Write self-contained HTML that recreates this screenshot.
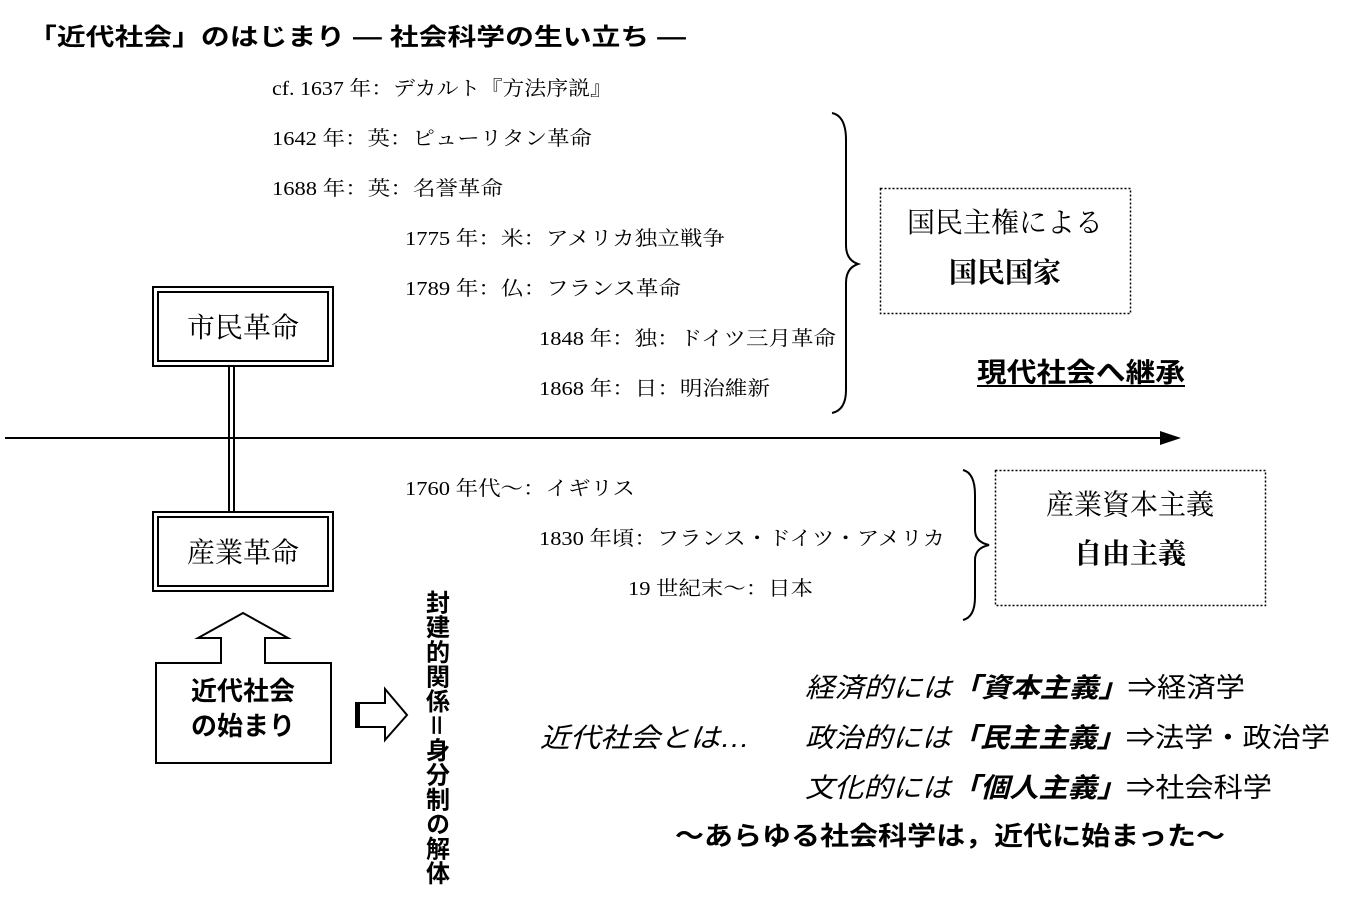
<!DOCTYPE html>
<html><head><meta charset="utf-8"><style>
html,body{margin:0;padding:0;background:#fff;}
svg{display:block;}
.s{font-family:"Liberation Serif","Noto Serif CJK SC",serif;fill:#000;}
.g{font-family:"Liberation Sans","Noto Sans CJK JP",sans-serif;fill:#000;}
</style></head><body>
<svg width="1350" height="910" xmlns="http://www.w3.org/2000/svg">
<text class="g" x="28" y="45" font-size="24" font-weight="bold" textLength="658" lengthAdjust="spacingAndGlyphs">「近代社会」のはじまり ― 社会科学の生い立ち ―</text>
<g class="s" font-size="20">
<text x="272" y="95" textLength="340" lengthAdjust="spacingAndGlyphs">cf. 1637 年：デカルト『方法序説』</text>
<text x="272" y="145" textLength="320" lengthAdjust="spacingAndGlyphs">1642 年：英：ピューリタン革命</text>
<text x="272" y="195" textLength="231" lengthAdjust="spacingAndGlyphs">1688 年：英：名誉革命</text>
<text x="405" y="245" textLength="320" lengthAdjust="spacingAndGlyphs">1775 年：米：アメリカ独立戦争</text>
<text x="405" y="295" textLength="276" lengthAdjust="spacingAndGlyphs">1789 年：仏：フランス革命</text>
<text x="539" y="345" textLength="297" lengthAdjust="spacingAndGlyphs">1848 年：独：ドイツ三月革命</text>
<text x="539" y="395" textLength="231" lengthAdjust="spacingAndGlyphs">1868 年：日：明治維新</text>
<text x="405" y="495" textLength="230" lengthAdjust="spacingAndGlyphs">1760 年代～：イギリス</text>
<text x="539" y="545" textLength="406" lengthAdjust="spacingAndGlyphs">1830 年頃：フランス・ドイツ・アメリカ</text>
<text x="628" y="595" textLength="185" lengthAdjust="spacingAndGlyphs">19 世紀末～：日本</text>
</g>
<g fill="none" stroke="#000" stroke-width="2">
<path d="M832,113 Q846,116 846,140 L846,245 Q846,260 858,264 Q846,268 846,283 L846,390 Q846,410 832,413"/>
<path d="M963,470 Q975,473 975,495 L975,530 Q975,542 989,545 Q975,548 975,560 L975,597 Q975,617 963,620"/>
</g>
<g fill="none" stroke="#000" stroke-width="1.5" stroke-dasharray="2,2">
<rect x="880.5" y="188.5" width="250" height="125"/>
<rect x="995.5" y="470.5" width="270" height="135"/>
</g>
<g class="s" font-size="28" text-anchor="middle">
<text x="1005" y="232">国民主権による</text>
<text x="1005" y="282" font-weight="bold">国民国家</text>
<text x="1130" y="514">産業資本主義</text>
<text x="1130" y="563" font-weight="bold">自由主義</text>
</g>
<text class="g" x="977" y="382" font-size="27" font-weight="bold" textLength="208" lengthAdjust="spacingAndGlyphs">現代社会へ継承</text>
<line x1="977" y1="386" x2="1185" y2="386" stroke="#000" stroke-width="2"/>
<line x1="5" y1="438" x2="1165" y2="438" stroke="#000" stroke-width="2"/>
<polygon points="1160,431 1181,438 1160,445" fill="#000"/>
<g fill="none" stroke="#000">
<rect x="153" y="287" width="180" height="79" stroke-width="2"/>
<rect x="158" y="292" width="170" height="69" stroke-width="2"/>
<rect x="153" y="512" width="180" height="79" stroke-width="2"/>
<rect x="158" y="517" width="170" height="69" stroke-width="2"/>
<line x1="229" y1="367" x2="229" y2="512" stroke-width="2"/>
<line x1="234" y1="367" x2="234" y2="512" stroke-width="2"/>
<path d="M243,613 L288,638 L265,638 L265,663 L331,663 L331,763 L156,763 L156,663 L221,663 L221,638 L198,638 Z" stroke-width="2"/>
<path d="M356,703 L385,703 L385,689 L407,715 L385,740 L385,727 L356,727 Z" stroke-width="2"/>
<line x1="358" y1="703" x2="358" y2="727" stroke-width="4"/>
</g>
<g class="s" font-size="28" text-anchor="middle">
<text x="243" y="337">市民革命</text>
<text x="243" y="562">産業革命</text>
</g>
<g class="g" font-size="26" font-weight="bold" text-anchor="middle">
<text x="243" y="700">近代社会</text>
<text x="243" y="735">の始まり</text>
</g>
<text class="g" x="435" y="590" font-size="24" font-weight="bold" style="writing-mode:vertical-rl;" textLength="295" lengthAdjust="spacingAndGlyphs">封建的関係＝身分制の解体</text>
<g class="g" font-size="27" font-style="italic">
<text x="540" y="747" textLength="210" lengthAdjust="spacingAndGlyphs">近代社会とは…</text>
<text x="805" y="697" textLength="440" lengthAdjust="spacingAndGlyphs">経済的には<tspan font-weight="bold">「資本主義」</tspan><tspan font-style="normal">⇒経済学</tspan></text>
<text x="805" y="747" textLength="525" lengthAdjust="spacingAndGlyphs">政治的には<tspan font-weight="bold">「民主主義」</tspan><tspan font-style="normal">⇒法学・政治学</tspan></text>
<text x="805" y="797" textLength="467" lengthAdjust="spacingAndGlyphs">文化的には<tspan font-weight="bold">「個人主義」</tspan><tspan font-style="normal">⇒社会科学</tspan></text>
</g>
<text class="g" x="675" y="845" font-size="26" font-weight="bold" textLength="550" lengthAdjust="spacingAndGlyphs">～あらゆる社会科学は，近代に始まった～</text>
</svg>
</body></html>
